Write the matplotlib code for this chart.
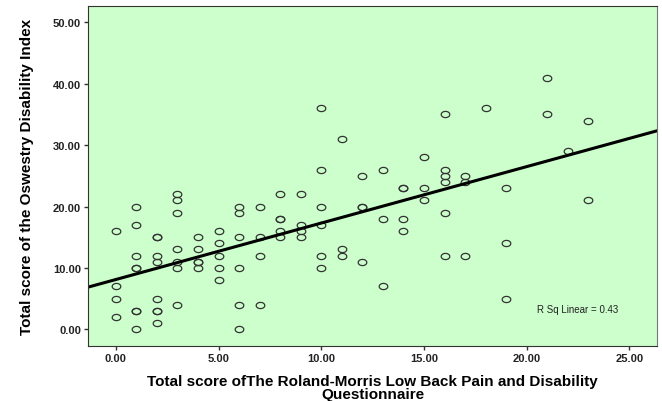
import matplotlib
matplotlib.use("Agg")
import matplotlib.pyplot as plt
import numpy as np
from matplotlib.path import Path

plt.rcParams['font.family'] = ['Liberation Sans', 'DejaVu Sans']

# Roland-Morris score (x) and Oswestry score (y)
rmq = [0, 0, 0, 0,
       1, 1, 1, 1, 1, 1, 1, 1,
       2, 2, 2, 2, 2, 2, 2, 2,
       3, 3, 3, 3, 3, 3, 3,
       4, 4, 4, 4, 4,
       5, 5, 5, 5, 5,
       6, 6, 6, 6, 6, 6,
       7, 7, 7, 7,
       8, 8, 8, 8, 8,
       9, 9, 9, 9,
       10, 10, 10, 10, 10, 10,
       11, 11, 11,
       12, 12, 12, 12,
       13, 13, 13,
       14, 14, 14, 14,
       15, 15, 15,
       16, 16, 16, 16, 16, 16,
       17, 17, 17,
       18,
       19, 19, 19,
       21, 21,
       22,
       23, 23]
odi = [16, 7, 5, 2,
       20, 17, 12, 10, 10, 3, 3, 0,
       15, 15, 12, 11, 5, 3, 3, 1,
       22, 21, 19, 13, 11, 10, 4,
       15, 13, 11, 11, 10,
       16, 14, 12, 10, 8,
       20, 19, 15, 10, 4, 0,
       20, 15, 12, 4,
       22, 18, 18, 16, 15,
       22, 17, 16, 15,
       36, 26, 20, 17, 12, 10,
       31, 13, 12,
       25, 20, 11, 20,
       26, 18, 7,
       23, 23, 18, 16,
       28, 23, 21,
       35, 26, 25, 24, 19, 12,
       25, 24, 12,
       36,
       23, 14, 5,
       41, 35,
       29,
       34, 21]

# linear fit as shown on the chart
fit_intercept = 8.1
fit_slope = 0.92
r_sq = 0.43

x_ticks = [0, 5, 10, 15, 20, 25]
y_ticks = [0, 10, 20, 30, 40, 50]

fig = plt.figure(figsize=(6.62, 4.02), dpi=100)
ax = fig.add_axes([0.133, 0.137, 0.86, 0.846])
ax.set_facecolor("#ccffcc")

# slightly flattened circle like the SPSS marker
t = np.linspace(0, 2 * np.pi, 40)
oval = Path(np.column_stack([np.cos(t), 0.72 * np.sin(t)]))

ax.plot(rmq, odi, linestyle="none", marker=oval, markersize=6.2,
        markerfacecolor="none", markeredgecolor="#333333", markeredgewidth=0.9)

xmin, xmax = -1.35, 26.36
xs = np.array([xmin, xmax])
ax.plot(xs, fit_intercept + fit_slope * xs, color="black", linewidth=2.2)

ax.text(20.5, 3.3, "R Sq Linear = %.2f" % r_sq, fontsize=7, va="center",
        color="#222222")

ax.set_xlim(xmin, xmax)
ax.set_ylim(-2.72, 52.7)
ax.set_xticks(x_ticks)
ax.set_yticks(y_ticks)
ax.set_xticklabels(["%.2f" % v for v in x_ticks], fontsize=8, fontweight="bold",
                   color="#222222")
ax.set_yticklabels(["%.2f" % v for v in y_ticks], fontsize=8, fontweight="bold",
                   color="#222222")
ax.tick_params(direction="out", length=3, width=1, color="#333333", pad=2)

for side in ["left", "bottom", "top"]:
    ax.spines[side].set_color("#333333")
ax.spines["right"].set_color("#777777")

ax.set_xlabel("Total score ofThe Roland-Morris Low Back Pain and Disability\nQuestionnaire",
              fontsize=11, fontweight="bold", linespacing=0.9, labelpad=8)
ax.set_ylabel("Total score of the Oswestry Disability Index", fontsize=11,
              fontweight="bold", labelpad=14)

fig.savefig("out.png", dpi=100)
